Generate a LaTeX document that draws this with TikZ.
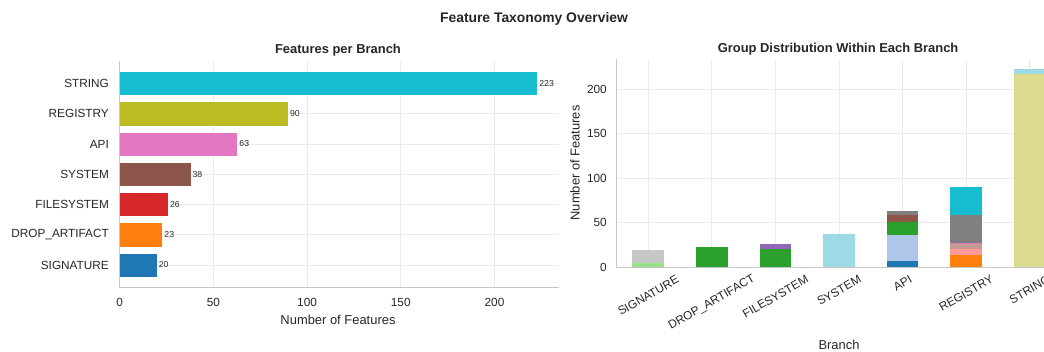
\documentclass[tikz,border=0pt]{standalone}
\usepackage{fontspec}
\setmainfont{Liberation Sans}
\usetikzlibrary{positioning}

\definecolor{tabblue}{HTML}{1F77B4}
\definecolor{tabltblue}{HTML}{AEC7E8}
\definecolor{taborange}{HTML}{FF7F0E}
\definecolor{tabgreen}{HTML}{2CA02C}
\definecolor{tabltgreen}{HTML}{98DF8A}
\definecolor{tabred}{HTML}{D62728}
\definecolor{tabltred}{HTML}{FF9896}
\definecolor{tabpurple}{HTML}{9467BD}
\definecolor{tabbrown}{HTML}{8C564B}
\definecolor{tabltbrown}{HTML}{C49C94}
\definecolor{tabpink}{HTML}{E377C2}
\definecolor{tabgray}{HTML}{7F7F7F}
\definecolor{tabltgray}{HTML}{C7C7C7}
\definecolor{tabolive}{HTML}{BCBD22}
\definecolor{tabltolive}{HTML}{DBDB8D}
\definecolor{tabcyan}{HTML}{17BECF}
\definecolor{tabltcyan}{HTML}{9EDAE5}
\definecolor{inkgray}{HTML}{262626}

\begin{document}
\begin{tikzpicture}[x=0.75pt, y=-0.75pt,
    every node/.style={text=inkgray, inner sep=0pt},
    gridline/.style={draw=black!8, line width=0.75pt},
    spine/.style={draw=black!22, line width=0.9pt},
    bar/.style={draw=white, line width=0.4pt},
    stackseg/.style={draw=none},
    ticklabel/.style={font=\fontsize{8.85}{10}\selectfont},
    axislabel/.style={font=\fontsize{9.7}{11}\selectfont},
    plottitle/.style={font=\bfseries\fontsize{9.7}{11}\selectfont},
    barvalue/.style={font=\fontsize{6.5}{7}\selectfont, anchor=west}]

    \useasboundingbox (0,0) rectangle (1044,351);

    \node[font=\bfseries\fontsize{10.4}{12}\selectfont] (suptitle) at (534,19) {Feature Taxonomy Overview};

    % features per branch, horizontal bars
    \begin{scope}[shift={(119.6,265)}, xscale=1.8745, yscale=-30.25]
        \foreach \v in {0,50,...,200}
            \draw[gridline] (\v,-0.744) -- (\v,6.744);
        \foreach \i in {0,...,6}
            \draw[gridline] (0,\i) -- (234.2,\i);

        \foreach \name/\val/\col [count=\i from 0] in {SIGNATURE/20/tabblue, DROP\_ARTIFACT/23/taborange,
                FILESYSTEM/26/tabred, SYSTEM/38/tabbrown, API/63/tabpink, REGISTRY/90/tabolive, STRING/223/tabcyan} {
            \draw[bar, fill=\col] (0,\i-0.4) rectangle (\val,\i+0.4);
            \node[barvalue] (lval-\i) at (\val+0.8,\i) {\val};
            \node[ticklabel, anchor=east] (lcat-\i) at (-5.6,\i) {\name};
        }

        \draw[spine] (0,6.744) -- (0,-0.744) -- (234.2,-0.744);
        \foreach \v in {0,50,...,200}
            \node[ticklabel] (lx-\v) at (\v,-1.246) {\v};

        \node[axislabel] (lxlabel) at (116.5,-1.818) {Number of Features};
        \node[plottitle] (ltitle) at (116.5,7.107) {Features per Branch};
    \end{scope}

    % group distribution, stacked bars
    \begin{scope}[shift={(648.3,267.5)}, xscale=63.57, yscale=-0.892]
        \foreach \v in {50,100,...,200}
            \draw[gridline] (-0.5,\v) -- (6.5,\v);
        \foreach \i in {0,...,6}
            \draw[gridline] (\i,0) -- (\i,234.15);

        \foreach \segs [count=\i from 0] in {{5/tabltgreen,15/tabltgray}, {23/tabgreen}, {21/tabgreen,5/tabpurple},
                {38/tabltcyan}, {7/tabblue,29/tabltblue,15/tabgreen,8/tabbrown,4/tabgray},
                {14/taborange,7/tabltred,5/tabltbrown,2/tabpink,31/tabgray,31/tabcyan}, {217/tabltolive,6/tabltcyan}} {
            \gdef\stackbase{0}
            \foreach \h/\col in \segs {
                \pgfmathsetmacro\stacktop{\stackbase+\h}
                \fill[stackseg, fill=\col] (\i-0.25,\stackbase) rectangle (\i+0.25,\stacktop);
                \xdef\stackbase{\stacktop}
            }
        }

        \draw[spine] (-0.5,234.15) -- (-0.5,0) -- (6.5,0);
        \foreach \v in {0,50,...,200}
            \node[ticklabel, anchor=east] (ry-\v) at (-0.65,\v) {\v};
        \foreach \name/\dy [count=\i from 0] in {SIGNATURE/31.3, DROP\_ARTIFACT/39.6, FILESYSTEM/32.6,
                SYSTEM/25.6, API/17.4, REGISTRY/28.9, STRING/24.6}
            \node[ticklabel, rotate=30] (rcat-\i) at (\i,-\dy) {\name};

        \node[axislabel, rotate=90] (rylabel) at (-1.153,117.2) {Number of Features};
        \node[axislabel] (rxlabel) at (3,-86.3) {Branch};
        \node[plottitle] (rtitle) at (2.985,244.4) {Group Distribution Within Each Branch};
    \end{scope}
\end{tikzpicture}
\end{document}
